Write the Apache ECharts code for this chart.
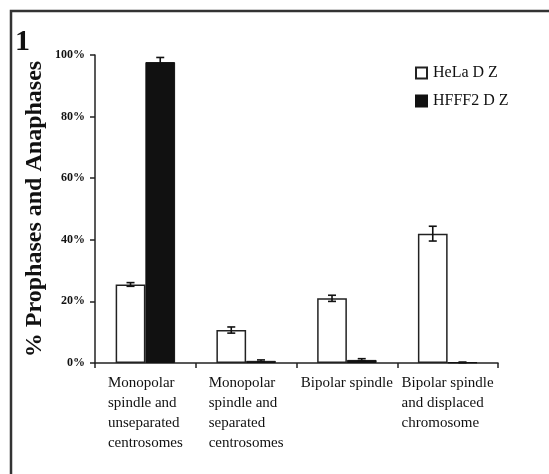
<!DOCTYPE html>
<html>
<head>
<meta charset="utf-8">
<script src="https://cdn.jsdelivr.net/npm/echarts@6/dist/echarts.min.js"></script>
<style>
  html, body { margin: 0; padding: 0; background: #fff; }
  #chart { width: 549px; height: 474px; }
</style>
</head>
<body>
<div id="chart"></div>
<script>
// categories and values
var categories = [
  "Monopolar\nspindle and\nunseparated\ncentrosomes",
  "Monopolar\nspindle and\nseparated\ncentrosomes",
  "Bipolar spindle",
  "Bipolar spindle\nand displaced\nchromosome"
];
var seriesNames = ["HeLa D Z", "HFFF2 D Z"];
var helaValues = [25.5, 10.7, 21, 42];
var helaErrors = [0.6, 1.0, 1.0, 2.4];
var hfffValues = [97.7, 0.7, 1.0, 0.2];
var hfffErrors = [1.5, 0.3, 0.4, 0.1];
var yTicks = [0, 20, 40, 60, 80, 100];

var serif = "'Liberation Serif', 'DejaVu Serif', serif";
var barCatGap = 0.41;

function errorSeries(values, errors, side) {
  var data = values.map(function (v, i) { return [i, v, errors[i]]; });
  return {
    type: "custom",
    silent: true,
    z: 10,
    data: data,
    renderItem: function (params, api) {
      var idx = api.value(0);
      var catW = api.size([1, 0])[0];
      var barW = catW * (1 - barCatGap) / 2;
      var c = api.coord([idx, api.value(1)]);
      var x = c[0] + side * barW / 2;
      var top = api.coord([idx, api.value(1) + api.value(2)])[1];
      var bot = api.coord([idx, api.value(1) - api.value(2)])[1];
      var half = 4;
      var st = { stroke: "#111", lineWidth: 1.6 };
      return {
        type: "group",
        children: [
          { type: "line", shape: { x1: x, y1: top, x2: x, y2: bot }, style: st },
          { type: "line", shape: { x1: x - half, y1: top, x2: x + half, y2: top }, style: st },
          { type: "line", shape: { x1: x - half, y1: bot, x2: x + half, y2: bot }, style: st }
        ]
      };
    }
  };
}

var chart = echarts.init(document.getElementById("chart"));
chart.setOption({
  animation: false,
  backgroundColor: "#fff",
  title: {
    text: "1",
    left: 10,
    top: 22,
    textStyle: { fontFamily: serif, fontSize: 30, fontWeight: "bold", color: "#111" }
  },
  graphic: [{
    type: "rect",
    shape: { x: 11, y: 11, width: 560, height: 500 },
    style: { fill: "none", stroke: "#333", lineWidth: 2.5 },
    silent: true
  }],
  legend: {
    orient: "vertical",
    left: 410,
    top: 60,
    itemWidth: 11,
    itemHeight: 11,
    itemGap: 12,
    icon: "rect",
    data: seriesNames,
    textStyle: { fontFamily: serif, fontSize: 16, color: "#111", padding: [0, 0, 0, 1] }
  },
  grid: { left: 95, right: 51, top: 55, bottom: 111 },
  xAxis: {
    type: "category",
    data: categories,
    axisLine: { lineStyle: { color: "#222", width: 1.5 } },
    axisTick: { show: true, length: 5, lineStyle: { color: "#222", width: 1.5 } },
    axisLabel: {
      interval: 0,
      margin: 10,
      color: "#111",
      formatter: function (v) {
        return v.split("\n").map(function (s) { return "{a|" + s + "}"; }).join("\n");
      },
      rich: {
        a: { fontFamily: serif, fontSize: 15, lineHeight: 20, color: "#111", align: "left" }
      }
    }
  },
  yAxis: {
    type: "value",
    min: 0,
    max: 100,
    interval: 20,
    name: "% Prophases and Anaphases",
    nameLocation: "middle",
    nameGap: 48,
    nameMoveOverlap: false,
    nameTextStyle: { fontFamily: serif, fontSize: 24, fontWeight: "bold", color: "#111" },
    splitLine: { show: false },
    axisLine: { show: true, lineStyle: { color: "#222", width: 1.5 } },
    axisTick: { show: true, length: 5, lineStyle: { color: "#222", width: 1.5 } },
    axisLabel: {
      margin: 10,
      color: "#111",
      fontFamily: serif,
      fontSize: 12,
      fontWeight: "bold",
      customValues: yTicks,
      formatter: function (v) { return v + "%"; }
    }
  },
  series: [
    {
      name: seriesNames[0],
      type: "bar",
      data: helaValues,
      barGap: "0%",
      barCategoryGap: (barCatGap * 100) + "%",
      itemStyle: { color: "#fff", borderColor: "#222", borderWidth: 1.5 }
    },
    {
      name: seriesNames[1],
      type: "bar",
      data: hfffValues,
      barGap: "0%",
      barCategoryGap: (barCatGap * 100) + "%",
      itemStyle: { color: "#111", borderColor: "#111", borderWidth: 1 }
    },
    errorSeries(helaValues, helaErrors, -1),
    errorSeries(hfffValues, hfffErrors, 1)
  ]
});
</script>
</body>
</html>
